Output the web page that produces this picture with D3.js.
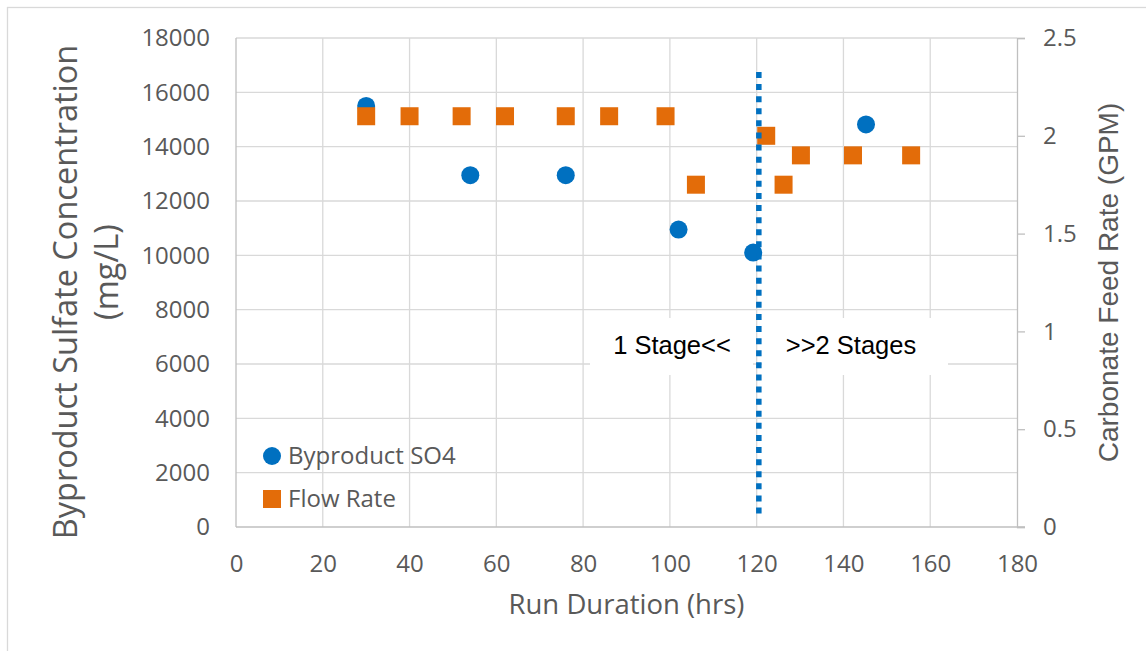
<!DOCTYPE html>
<html>
<head>
<meta charset="utf-8">
<script src="https://cdn.jsdelivr.net/npm/d3@7"></script>
<style>
  body { margin: 0; background: #fff; }
  svg { display: block; }
</style>
</head>
<body>
<script>
// ---- data ----
var so4Hours = [30, 54, 76, 102, 119.2, 145.2];
var so4Values = [15500, 12950, 12950, 10950, 10100, 14820];

var flowHours = [30, 40, 52, 62, 76, 86, 99, 106, 122.2, 126.2, 130.2, 142.2, 155.6];
var flowValues = [2.1, 2.1, 2.1, 2.1, 2.1, 2.1, 2.1, 1.75, 2.0, 1.75, 1.9, 1.9, 1.9];

var xTicks = [0, 20, 40, 60, 80, 100, 120, 140, 160, 180];
var leftTicks = [0, 2000, 4000, 6000, 8000, 10000, 12000, 14000, 16000, 18000];
var rightTicks = [0, 0.5, 1, 1.5, 2, 2.5];

var stageX = 120.5;            // dotted divider
var stageSpan = [370, 16750];  // in left-axis units
var seriesNames = ["Byproduct SO4", "Flow Rate"];

// ---- layout ----
var width = 1146, height = 651;
var plot = {left: 236, right: 1017, top: 38, bottom: 527};
var blue = "#0070C0", orange = "#E36C09";
var textCol = "#595959";
var font = "'Open Sans', sans-serif";

var x = d3.scaleLinear().domain([0, 180]).range([plot.left, plot.right]);
var yL = d3.scaleLinear().domain([0, 18000]).range([plot.bottom, plot.top]);
var yR = d3.scaleLinear().domain([0, 2.5]).range([plot.bottom, plot.top]);

var svg = d3.select("body").append("svg")
    .attr("width", width)
    .attr("height", height);

// chart frame (only top/left edges are inside the picture)
svg.append("rect")
    .attr("x", 7.5).attr("y", 7.5)
    .attr("width", 1300).attr("height", 800)
    .attr("fill", "none")
    .attr("stroke", "#d9d9d9")
    .attr("stroke-width", 1.3);

// gridlines
svg.append("g").selectAll("line").data(leftTicks.slice(1)).enter().append("line")
    .attr("x1", plot.left).attr("x2", plot.right)
    .attr("y1", function(d) { return yL(d); })
    .attr("y2", function(d) { return yL(d); })
    .attr("stroke", "#d9d9d9").attr("stroke-width", 1.3);

svg.append("g").selectAll("line").data(xTicks.slice(1, -1)).enter().append("line")
    .attr("x1", function(d) { return x(d); })
    .attr("x2", function(d) { return x(d); })
    .attr("y1", plot.top).attr("y2", plot.bottom)
    .attr("stroke", "#d9d9d9").attr("stroke-width", 1.3);

// axes
var axisCol = "#bfbfbf";
var gLeft = svg.append("g")
    .attr("transform", "translate(" + plot.left + ",0)")
    .call(d3.axisLeft(yL).tickValues(leftTicks).tickSize(0).tickPadding(26).tickFormat(d3.format("d")));
var gRight = svg.append("g")
    .attr("transform", "translate(" + plot.right + ",0)")
    .call(d3.axisRight(yR).tickValues(rightTicks).tickSize(8).tickPadding(18).tickFormat(function(d) { return String(d); }));
var gBottom = svg.append("g")
    .attr("transform", "translate(0," + plot.bottom + ")")
    .call(d3.axisBottom(x).tickValues(xTicks).tickSize(0).tickPadding(28));

[gLeft, gRight, gBottom].forEach(function(g) {
  g.select(".domain").attr("stroke", axisCol).attr("stroke-width", 1.3);
  g.selectAll(".tick line").attr("stroke", axisCol).attr("stroke-width", 1.3);
  g.selectAll(".tick text")
      .attr("fill", textCol)
      .style("font-family", font)
      .style("font-size", "24px");
});
gBottom.select(".domain").remove();
gLeft.select(".domain").remove();
svg.append("line")
    .attr("x1", plot.left).attr("x2", plot.right + 8)
    .attr("y1", plot.bottom).attr("y2", plot.bottom)
    .attr("stroke", axisCol).attr("stroke-width", 1.3);
svg.append("line")
    .attr("x1", plot.left).attr("x2", plot.left)
    .attr("y1", plot.top).attr("y2", plot.bottom)
    .attr("stroke", axisCol).attr("stroke-width", 1.3);

// axis titles
svg.append("text")
    .attr("x", (plot.left + plot.right) / 2).attr("y", 614)
    .attr("text-anchor", "middle")
    .attr("fill", textCol)
    .style("font-family", font).style("font-size", "27.5px")
    .text("Run Duration (hrs)");

var leftTitle = ["Byproduct Sulfate Concentration", "(mg/L)"];
var leftBase = [77, 118];
var leftMid = [292, 272];
svg.append("g").selectAll("text").data(leftTitle).enter().append("text")
    .attr("transform", function(d, i) { return "translate(" + leftBase[i] + "," + leftMid[i] + ") rotate(-90)"; })
    .attr("text-anchor", "middle")
    .attr("fill", textCol)
    .style("font-family", font).style("font-size", "32.5px")
    .text(function(d) { return d; });

svg.append("text")
    .attr("transform", "translate(1118,282.5) rotate(-90)")
    .attr("text-anchor", "middle")
    .attr("fill", textCol)
    .style("font-family", "'Liberation Sans', Arial, sans-serif").style("font-size", "28px")
    .text("Carbonate Feed Rate (GPM)");

// stage annotation boxes
var boxes = [
  {x0: 590, x1: 753, label: "1 Stage<<", tx: 672},
  {x0: 762, x1: 948, label: ">>2 Stages", tx: 851}
];
svg.append("g").selectAll("rect").data(boxes).enter().append("rect")
    .attr("x", function(d) { return d.x0; })
    .attr("y", 318)
    .attr("width", function(d) { return d.x1 - d.x0; })
    .attr("height", 57)
    .attr("fill", "#fff");
svg.append("g").selectAll("text").data(boxes).enter().append("text")
    .attr("x", function(d) { return d.tx; })
    .attr("y", 354)
    .attr("text-anchor", "middle")
    .attr("fill", "#000")
    .style("font-family", "'Liberation Sans', Arial, sans-serif").style("font-size", "25.5px")
    .text(function(d) { return d.label; });

// series
svg.append("g").selectAll("circle").data(so4Hours).enter().append("circle")
    .attr("cx", function(d) { return x(d); })
    .attr("cy", function(d, i) { return yL(so4Values[i]); })
    .attr("r", 9)
    .attr("fill", blue);

svg.append("g").selectAll("rect").data(flowHours).enter().append("rect")
    .attr("x", function(d) { return x(d) - 9; })
    .attr("y", function(d, i) { return yR(flowValues[i]) - 9; })
    .attr("width", 18).attr("height", 18)
    .attr("fill", orange);

// dotted divider
svg.append("line")
    .attr("x1", x(stageX)).attr("x2", x(stageX))
    .attr("y1", yL(stageSpan[1])).attr("y2", yL(stageSpan[0]))
    .attr("stroke", blue)
    .attr("stroke-width", 5.5)
    .attr("stroke-dasharray", "6,6.1");

// legend
var legend = svg.append("g").attr("transform", "translate(272,456)");
legend.append("circle").attr("cx", 0).attr("cy", 0).attr("r", 9).attr("fill", blue);
legend.append("rect").attr("x", -9).attr("y", 34).attr("width", 18).attr("height", 18).attr("fill", orange);
legend.selectAll("text").data(seriesNames).enter().append("text")
    .attr("x", 16)
    .attr("y", function(d, i) { return 8 + i * 43; })
    .attr("fill", textCol)
    .style("font-family", font).style("font-size", "24px")
    .text(function(d) { return d; });
</script>
</body>
</html>
